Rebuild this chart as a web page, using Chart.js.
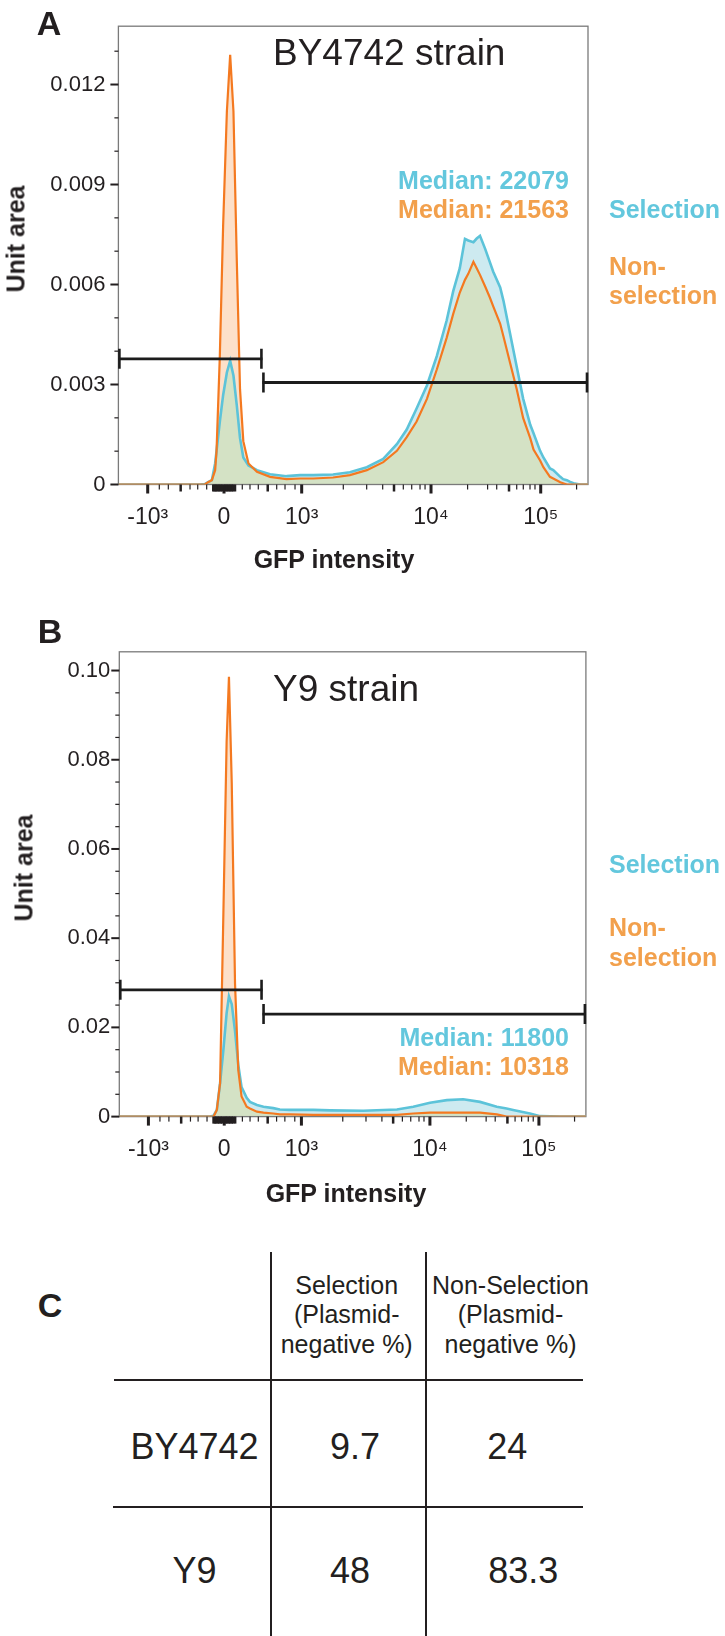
<!DOCTYPE html>
<html><head><meta charset="utf-8">
<script src="https://cdn.jsdelivr.net/npm/chart.js@4.4.1/dist/chart.umd.min.js"></script>
<style>
html,body{margin:0;padding:0;background:#fff;}
#page{position:relative;width:725px;height:1636px;overflow:hidden;font-family:'Liberation Sans',Arial,sans-serif;color:#231f20;}
canvas{position:absolute;left:0;}
.t{position:absolute;white-space:nowrap;line-height:1;}
.c{transform:translate(-50%,-50%);}
.l{transform:translate(0,-50%);}
.r{transform:translate(-100%,-50%);}
.rot{transform:translate(-50%,-50%) rotate(-90deg);}
.letter{font-size:34px;font-weight:bold;}
.strain{font-size:37px;}
.med{font-size:25px;font-weight:bold;}
.leg{font-size:25px;font-weight:bold;}
.axt{font-size:25px;font-weight:bold;}
.cy{color:#63c7dd;}
.or{color:#f2a04c;}
.hd{font-size:25px;text-align:center;line-height:29.5px;}
.cell{font-size:36px;}
.ln{position:absolute;background:#231f20;}
</style></head>
<body><div id="page">
<canvas id="chartA" width="725" height="600" style="top:0"></canvas>
<canvas id="chartB" width="725" height="620" style="top:600px"></canvas>

<div class="t c letter" style="left:49px;top:23px">A</div>
<div class="t l strain" style="left:273px;top:52px">BY4742 strain</div>
<div class="t r med cy" style="left:569px;top:180px">Median: 22079</div>
<div class="t r med or" style="left:569px;top:209px">Median: 21563</div>
<div class="t l leg cy" style="left:609px;top:209px">Selection</div>
<div class="t l leg or" style="left:609px;top:266px">Non-</div>
<div class="t l leg or" style="left:609px;top:295px">selection</div>
<div class="t rot axt" style="left:16px;top:239px">Unit area</div>
<div class="t c axt" style="left:334px;top:559px">GFP intensity</div>

<div class="t c letter" style="left:50px;top:631px">B</div>
<div class="t l strain" style="left:273px;top:688px">Y9 strain</div>
<div class="t r med cy" style="left:569px;top:1037px">Median: 11800</div>
<div class="t r med or" style="left:569px;top:1066px">Median: 10318</div>
<div class="t l leg cy" style="left:609px;top:864px">Selection</div>
<div class="t l leg or" style="left:609px;top:927px">Non-</div>
<div class="t l leg or" style="left:609px;top:957px">selection</div>
<div class="t rot axt" style="left:24px;top:868px">Unit area</div>
<div class="t c axt" style="left:346px;top:1193px">GFP intensity</div>

<div class="t c letter" style="left:50px;top:1305px">C</div>
<div id="table"></div>

<script>
// ---------------- data ----------------
// x positions are display channels of the biexponential GFP axis (0..1000 across the plot)
const X_MIN = 0, X_MAX = 1000;
const X_MAJOR_CH = [62.4, 224.9, 390.3, 665.7, 899.3];
const X_MAJOR_LABELS = ['-10\u00B3', '0', '10\u00B3', '10\u2074', '10\u2075'];
const X_MID_CH = [132.6, 318.0, 586.9, 831.8, 202, 205, 207.8, 211, 214.2, 217.5, 220.6, 228, 231.3, 234.5, 237.7, 241, 244, 248.3];
const X_MINOR_CH = [87.1, 106.3, 152.5, 168.9, 188.0, 263.8, 280.2, 297.9, 337.1, 354.8, 376.1,
  478.9, 528.7, 562.8, 606.7, 624.6, 642.3, 653.0, 743.6, 786.2, 805.6, 848.2, 862.2, 876.5, 887.1, 975.7];

// Panel A : BY4742
const Y_MAX_A = 0.01375;
const Y_TICKS_A = [0, 0.003, 0.006, 0.009, 0.012];
const Y_LABELS_A = ['0', '0.003', '0.006', '0.009', '0.012'];
const Y_MINOR_A = [0.001, 0.002, 0.004, 0.005, 0.007, 0.008, 0.010, 0.011, 0.013];
const BINS_A = [0, 174, 184, 191, 199, 206, 209, 216, 223, 231, 238, 245, 252, 259, 266, 277, 295, 323, 358, 387,
  415, 457, 493, 529, 564, 593, 614, 635, 657, 678, 699, 713, 727, 738, 745, 756, 763, 770, 781, 791,
  798, 813, 820, 834, 848, 862, 877, 884, 898, 905, 919, 926, 941, 947, 955, 962, 969, 983, 1000];
const SEL_A = [0, 0, 0.00001, 0.00007, 0.00013, 0.00063, 0.00101, 0.00189, 0.00268, 0.00336, 0.00371, 0.00327, 0.00239, 0.00139, 0.00081, 0.00057, 0.00043, 0.00031, 0.00025, 0.00028,
  0.00028, 0.00030, 0.00037, 0.00052, 0.00077, 0.00121, 0.00165, 0.00228, 0.00297, 0.00385, 0.00492, 0.00580, 0.00649, 0.00737, 0.00732, 0.00727, 0.00738, 0.00746, 0.00707, 0.00667,
  0.00639, 0.00591, 0.00551, 0.00453, 0.00355, 0.00257, 0.00179, 0.00154, 0.00101, 0.00081, 0.00048, 0.00043, 0.00023, 0.00016, 0.00013, 0.00008, 0.00004, 0, 0];
const NONSEL_A = [0, 0, 0, 0.00007, 0.00013, 0.00043, 0.00101, 0.00386, 0.00776, 0.01119, 0.01289, 0.01119, 0.00679, 0.00286, 0.00130, 0.00063, 0.00038, 0.00023, 0.00016, 0.00018,
  0.00018, 0.00021, 0.00028, 0.00043, 0.00067, 0.00101, 0.00142, 0.00189, 0.00257, 0.00345, 0.00440, 0.00512, 0.00576, 0.00614, 0.00632, 0.00668, 0.00649, 0.00629, 0.00594, 0.00561,
  0.00535, 0.00482, 0.00444, 0.00365, 0.00287, 0.00199, 0.00139, 0.00105, 0.00072, 0.00052, 0.00023, 0.00018, 0.00007, 0.00004, 0, 0, 0, 0, 0];
// gates: [from channel, to channel, level]
const GATES_A = [[0, 306.7, 0.00377], [306.7, 1000, 0.00306]];

// Panel B : Y9
const Y_MAX_B = 0.1042;
const Y_TICKS_B = [0, 0.02, 0.04, 0.06, 0.08, 0.10];
const Y_LABELS_B = ['0', '0.02', '0.04', '0.06', '0.08', '0.10'];
const Y_MINOR_B = [0.005, 0.01, 0.015, 0.025, 0.03, 0.035, 0.045, 0.05, 0.055, 0.065, 0.07, 0.075, 0.085, 0.09, 0.095];
const BINS_B = [0, 173, 194, 202, 209, 216, 223, 230, 235, 241, 248, 255, 262, 273, 280, 295, 309, 330, 344, 366,
  416, 452, 523, 595, 630, 666, 702, 737, 773, 809, 830, 844, 880, 902, 945, 1000];
const SEL_B = [0, 0, 0, 0.0002, 0.0015, 0.0075, 0.0149, 0.0232, 0.0270, 0.0252, 0.0192, 0.0116, 0.0066, 0.0042, 0.0033, 0.0026, 0.0022, 0.0019, 0.0016, 0.0015,
  0.0015, 0.0014, 0.0013, 0.0016, 0.0022, 0.0031, 0.0037, 0.0039, 0.0033, 0.0022, 0.0018, 0.0015, 0.0007, 0.0001, 0, 0];
const NONSEL_B = [0, 0, 0, 0, 0.0015, 0.0075, 0.0452, 0.0840, 0.0986, 0.0748, 0.0299, 0.0104, 0.0045, 0.0022, 0.0018, 0.0011, 0.0009, 0.0007, 0.0005, 0.0005,
  0.0004, 0.0004, 0.0004, 0.0004, 0.0007, 0.0009, 0.0009, 0.0009, 0.0009, 0.0005, 0, 0, 0, 0, 0, 0];
const GATES_B = [[0, 307, 0.02843], [307, 1000, 0.02298]];

// Panel C : table
const TABLE_HEAD = [['Selection', '(Plasmid-', 'negative %)'], ['Non-Selection', '(Plasmid-', 'negative %)']];
const TABLE_STRAINS = ['BY4742', 'Y9'];
const TABLE_SEL = ['9.7', '48'];
const TABLE_NONSEL = ['24', '83.3'];

// ---------------- drawing ----------------
const FONT = "'Liberation Sans', Arial, sans-serif";
const INK = '#231f20';
const CYAN = '#5cc3d9', ORANGE = '#f47920';
const FILL_BOTH = '#d4e2c5', FILL_SEL = '#cdeaf0', FILL_NONSEL = '#fde0c9';

const flowAxes = {
  id: 'flowAxes',
  beforeDatasetsDraw(chart, args, o) {
    const { ctx, chartArea: a } = chart;
    ctx.save();
    ctx.strokeStyle = '#7a7a7a'; ctx.lineWidth = 1.3;
    ctx.strokeRect(a.left, a.top, a.right - a.left, a.bottom - a.top);
    ctx.restore();
  },
  afterDatasetsDraw(chart, args, o) {
    const { ctx, chartArea: a } = chart;
    const xs = chart.scales.x, ys = chart.scales.y;
    ctx.save();
    ctx.fillStyle = INK;
    o.xMajor.forEach(v => { const x = xs.getPixelForValue(v); ctx.fillRect(x - 1.5, a.bottom, 3, 9); });
    o.xMid.forEach(v => { const x = xs.getPixelForValue(v); ctx.fillRect(x - 1.25, a.bottom, 2.5, 7); });
    o.xMinor.forEach(v => { const x = xs.getPixelForValue(v); ctx.fillRect(x - 0.6, a.bottom, 1.2, 5); });
    o.yMajor.forEach(v => { const y = ys.getPixelForValue(v); ctx.fillRect(a.left - 8, y - 1, 8, 2); });
    o.yMinor.forEach(v => { const y = ys.getPixelForValue(v); ctx.fillRect(a.left - 4, y - 0.6, 4, 1.2); });
    // gates
    ctx.strokeStyle = '#1c1c1c'; ctx.lineCap = 'butt';
    o.gates.forEach(g => {
      const x1 = xs.getPixelForValue(g[0]), x2 = xs.getPixelForValue(g[1]), y = ys.getPixelForValue(g[2]);
      ctx.lineWidth = 2.8;
      ctx.beginPath(); ctx.moveTo(x1, y); ctx.lineTo(x2, y); ctx.stroke();
      ctx.lineWidth = 2.6;
      ctx.beginPath(); ctx.moveTo(x1 + 1, y - 10); ctx.lineTo(x1 + 1, y + 10);
      ctx.moveTo(x2 - 1, y - 10); ctx.lineTo(x2 - 1, y + 10); ctx.stroke();
    });
    ctx.restore();
  }
};

function makeChart(id, p) {
  const pts = arr => p.bins.map((x, i) => ({ x: x, y: arr[i] }));
  return new Chart(document.getElementById(id), {
    type: 'line',
    data: {
      datasets: [
        { label: 'Non-selection', data: pts(p.nonsel), borderColor: ORANGE, borderWidth: 2.2,
          backgroundColor: FILL_NONSEL, fill: { target: 1, above: FILL_NONSEL, below: FILL_SEL },
          pointRadius: 0, tension: 0, order: 1 },
        { label: 'Selection', data: pts(p.sel), borderColor: CYAN, borderWidth: 2.6,
          backgroundColor: FILL_BOTH, fill: 'origin', pointRadius: 0, tension: 0, order: 2 }
      ]
    },
    options: {
      responsive: false, animation: false, devicePixelRatio: 1,
      layout: { padding: { left: 0, top: p.top, right: p.right, bottom: 0 } },
      plugins: { legend: { display: false }, tooltip: { enabled: false },
        filler: { drawTime: 'beforeDatasetsDraw', propagate: false },
        flowAxes: { xMajor: X_MAJOR_CH, xMid: X_MID_CH, xMinor: X_MINOR_CH,
          yMajor: p.yTicks, yMinor: p.yMinor, gates: p.gates } },
      scales: {
        x: { type: 'linear', min: X_MIN, max: X_MAX,
          grid: { display: false, drawTicks: false }, border: { display: false },
          afterBuildTicks: s => { s.ticks = X_MAJOR_CH.map(v => ({ value: v })); },
          afterFit: s => { s.height = p.xHeight; },
          ticks: { autoSkip: false, maxRotation: 0, minRotation: 0, padding: 19, color: INK,
            font: { family: FONT, size: 23 }, callback: (v, i) => X_MAJOR_LABELS[i] } },
        y: { type: 'linear', min: 0, max: p.yMax,
          grid: { display: false, drawTicks: false }, border: { display: false },
          afterBuildTicks: s => { s.ticks = p.yTicks.map(v => ({ value: v })); },
          afterFit: s => { s.width = p.left; },
          ticks: { autoSkip: false, padding: p.yPad, color: INK,
            font: { family: FONT, size: 22 }, callback: (v, i) => p.yLabels[i] } }
      }
    },
    plugins: [flowAxes]
  });
}

makeChart('chartA', { bins: BINS_A, sel: SEL_A, nonsel: NONSEL_A, gates: GATES_A,
  yMax: Y_MAX_A, yTicks: Y_TICKS_A, yLabels: Y_LABELS_A, yMinor: Y_MINOR_A,
  top: 15.7, right: 137, left: 118.4, xHeight: 600 - 484.5, yPad: 13 });
makeChart('chartB', { bins: BINS_B, sel: SEL_B, nonsel: NONSEL_B, gates: GATES_B,
  yMax: Y_MAX_B, yTicks: Y_TICKS_B, yLabels: Y_LABELS_B, yMinor: Y_MINOR_B,
  top: 51.8, right: 139.1, left: 119.3, xHeight: 620 - 516.6, yPad: 9 });

// table C
(function () {
  const T = document.getElementById('table');
  const add = (html) => { T.insertAdjacentHTML('beforeend', html); };
  add('<div class="ln" style="left:269.7px;top:1252px;width:2px;height:384px"></div>');
  add('<div class="ln" style="left:425px;top:1252px;width:2px;height:384px"></div>');
  add('<div class="ln" style="left:114px;top:1379px;width:469px;height:2px"></div>');
  add('<div class="ln" style="left:113px;top:1506px;width:470px;height:2px"></div>');
  const headX = [346.7, 510.5];
  TABLE_HEAD.forEach((lines, j) => {
    add('<div class="t c hd" style="left:' + headX[j] + 'px;top:1314.5px">' + lines.join('<br>') + '</div>');
  });
  const rowY = [1447, 1571];
  const selX = [355, 350], nonX = [507.3, 523.3];
  TABLE_STRAINS.forEach((s, i) => {
    add('<div class="t c cell" style="left:194.5px;top:' + rowY[i] + 'px">' + s + '</div>');
    add('<div class="t c cell" style="left:' + selX[i] + 'px;top:' + rowY[i] + 'px">' + TABLE_SEL[i] + '</div>');
    add('<div class="t c cell" style="left:' + nonX[i] + 'px;top:' + rowY[i] + 'px">' + TABLE_NONSEL[i] + '</div>');
  });
})();
</script>
</div></body></html>
